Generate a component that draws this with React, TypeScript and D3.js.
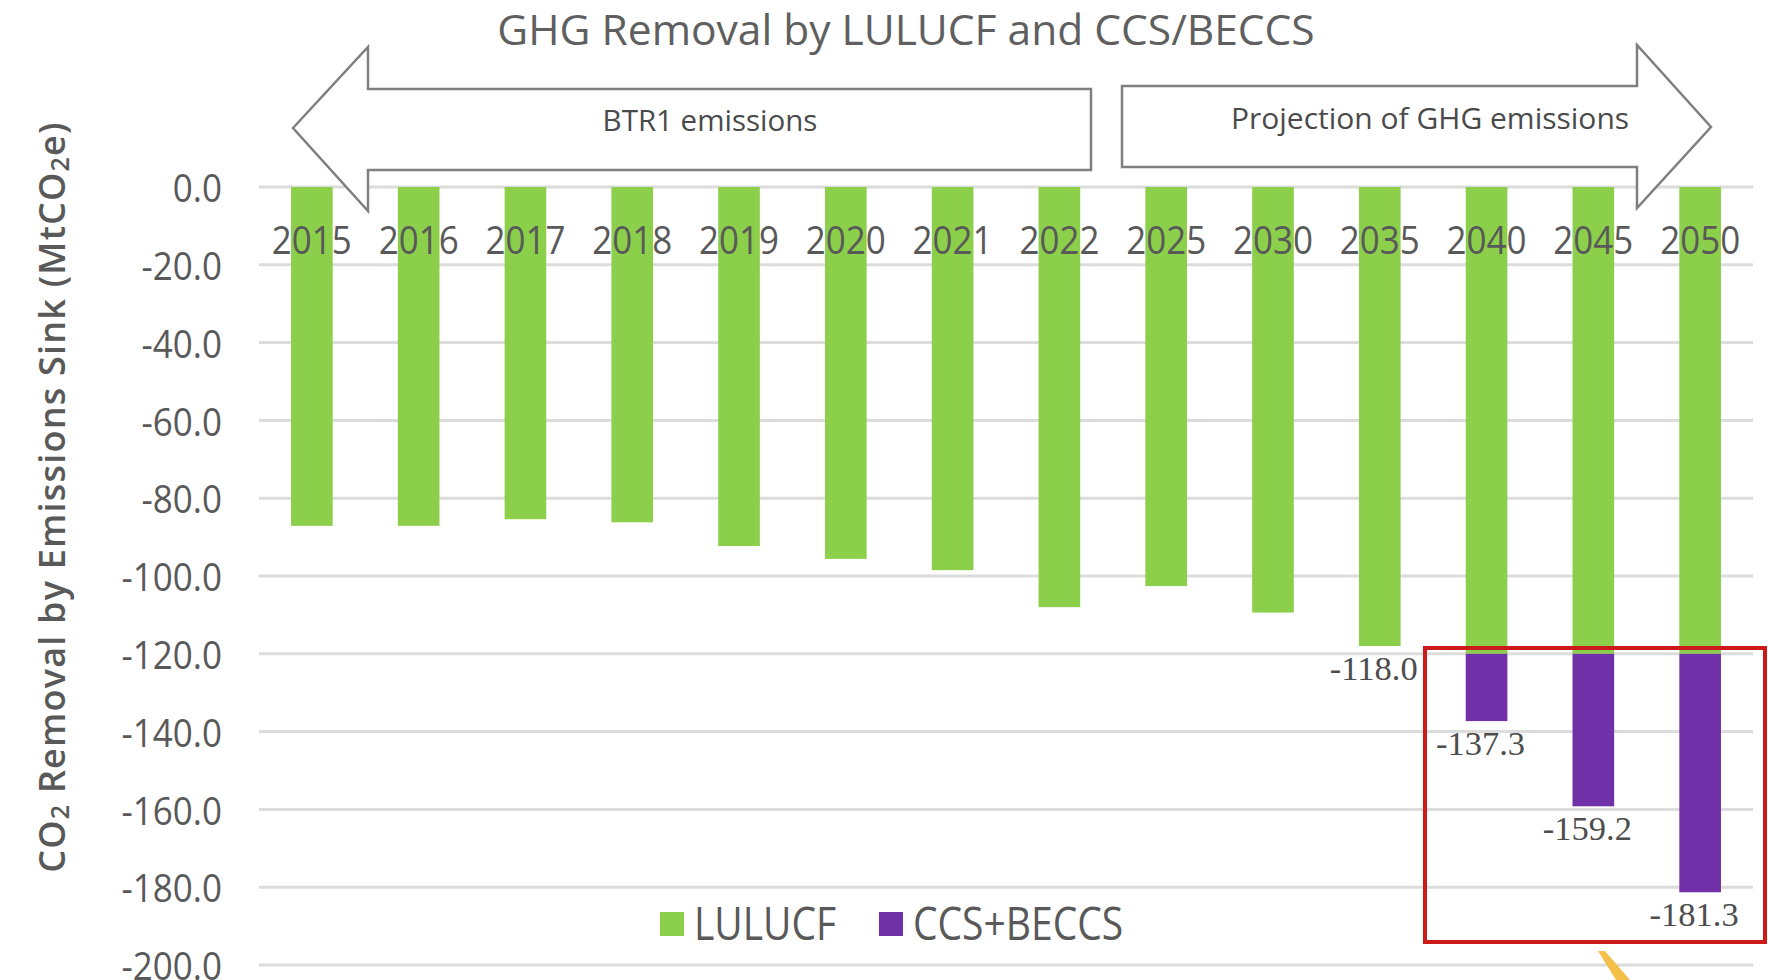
import React from "react";
import * as d3 from "d3";

const years = ["2015","2016","2017","2018","2019","2020","2021","2022","2025","2030","2035","2040","2045","2050"];
const lulucf = [-87.1,-87.1,-85.4,-86.2,-92.3,-95.6,-98.5,-108.0,-102.6,-109.4,-118.0,-120.0,-120.0,-120.0];
const ccsBeccs = [0,0,0,0,0,0,0,0,0,0,0,-17.3,-39.2,-61.3];
const labelYears = ["2035","2040","2045","2050"];
const yTicks = [0,-20,-40,-60,-80,-100,-120,-140,-160,-180,-200];
const seriesNames = ["LULUCF","CCS+BECCS"];
const seriesColors = ["#8ccf4a","#7030a8"];

const W = 1768, H = 980;
const FONT = "'Open Sans', 'Noto Sans', sans-serif";
const GREY = "#595959";

export default function App() {
  const x = d3.scaleBand<string>().domain(years).range([259, 1753]).paddingInner(0.61).paddingOuter(0.3);
  const y = d3.scaleLinear().domain([-200, 0]).range([965, 187]);
  const fmt = (v: number) => d3.format(".1f")(v).replace("\u2212", "-");

  const rows = years.map((yr, i) => ({ yr, a: lulucf[i], b: ccsBeccs[i], total: lulucf[i] + ccsBeccs[i] }));
  const bw = x.bandwidth();

  const leftArrow = "M293,128 L368,47 L368,89 L1091,89 L1091,170 L368,170 L368,211 Z";
  const rightArrow = "M1122,86 L1637,86 L1637,45 L1711,127 L1637,208 L1637,167 L1122,167 Z";

  return (
    <svg width={W} height={H} style={{ display: "block", position: "absolute", left: 0, top: 0, background: "#fff" }}>
      <rect x={0} y={0} width={W} height={H} fill="#fff" />
      <text x={906} y={28} textAnchor="middle" dominantBaseline="central" fontFamily={FONT} fontSize={42.5} fill="#5f5f5f">
        GHG Removal by LULUCF and CCS/BECCS
      </text>

      {yTicks.map((t) => (
        <line key={"g" + t} x1={259} x2={1753} y1={y(t)} y2={y(t)} stroke="#dcdcdc" strokeWidth={3} />
      ))}
      {yTicks.map((t) => (
        <g key={"t" + t} transform={`translate(222,${y(t)}) scale(1,1.12)`}>
          <text x={0} y={0} textAnchor="end" dominantBaseline="central" fontFamily={FONT} fontSize={35} fill={GREY}>
            {fmt(t)}
          </text>
        </g>
      ))}

      <g transform="translate(51,497) rotate(-90)">
        <text x={0} y={0} textAnchor="middle" dominantBaseline="central" fontFamily={FONT} fontWeight={600} fontSize={36} letterSpacing={1.2} fill={GREY}>
          CO<tspan fontSize={25} dy={8}>2</tspan><tspan dy={-8}> Removal by Emissions Sink (MtCO</tspan><tspan fontSize={25} dy={8}>2</tspan><tspan dy={-8}>e)</tspan>
        </text>
      </g>

      <path d={leftArrow} fill="#fff" stroke="#7f7f7f" strokeWidth={2.5} strokeLinejoin="miter" />
      <path d={rightArrow} fill="#fff" stroke="#7f7f7f" strokeWidth={2.5} strokeLinejoin="miter" />
      <text x={710} y={119} textAnchor="middle" dominantBaseline="central" fontFamily={FONT} fontSize={29.5} fill="#4a4a4a">BTR1 emissions</text>
      <text x={1430} y={117} textAnchor="middle" dominantBaseline="central" fontFamily={FONT} fontSize={30} fill="#4a4a4a">Projection of GHG emissions</text>

      {rows.map((r) => (
        <g key={"b" + r.yr}>
          <rect x={x(r.yr)} y={y(0)} width={bw} height={y(r.a) - y(0)} fill={seriesColors[0]} />
          {r.b !== 0 && (
            <rect x={x(r.yr)} y={y(r.a)} width={bw} height={y(r.total) - y(r.a)} fill={seriesColors[1]} />
          )}
        </g>
      ))}

      {years.map((yr) => (
        <g key={"x" + yr} transform={`translate(${(x(yr) as number) + bw / 2},239) scale(1,1.12)`}>
          <text x={0} y={0} textAnchor="middle" dominantBaseline="central" fontFamily={FONT} fontSize={35} fill={GREY}>
            {yr}
          </text>
        </g>
      ))}

      {rows.filter((r) => labelYears.includes(r.yr)).map((r) => (
        <text key={"l" + r.yr} x={(x(r.yr) as number) + bw / 2 - 6} y={y(r.total) + 22} textAnchor="middle" dominantBaseline="central"
          fontFamily="'Liberation Serif', 'DejaVu Serif', serif" fontSize={34.5} fill="#4d4d4d">
          {fmt(r.total)}
        </text>
      ))}

      <rect x={1425} y={648} width={340} height={294} fill="none" stroke="#cc1a1a" strokeWidth={4} />
      <polygon points="1598,951 1605,951 1630,980 1616,980" fill="#f4c04a" />

      {seriesNames.map((n, i) => {
        const lx = i === 0 ? 660 : 879;
        return (
          <g key={"lg" + n}>
            <rect x={lx} y={912} width={24} height={24} fill={seriesColors[i]} />
            <g transform={`translate(${lx + 34},922) scale(1,1.18)`}>
              <text x={0} y={0} dominantBaseline="central" fontFamily={FONT} fontSize={39} fill={GREY}>{n}</text>
            </g>
          </g>
        );
      })}
    </svg>
  );
}
